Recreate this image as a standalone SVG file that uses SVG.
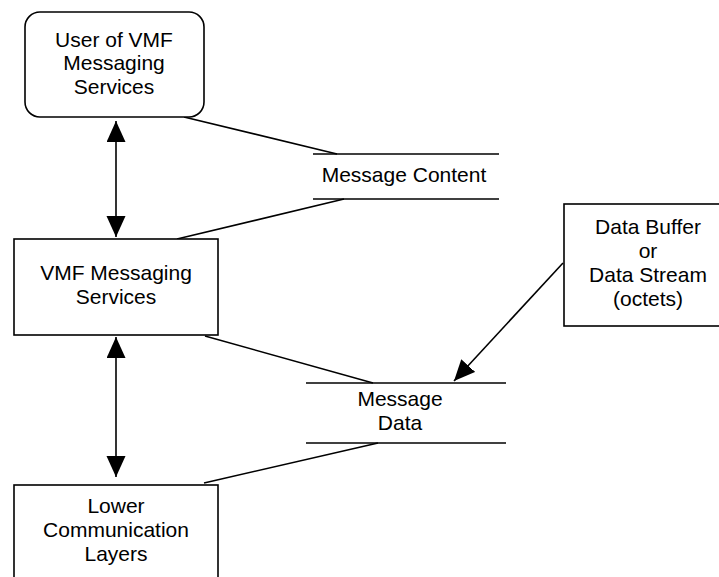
<svg xmlns="http://www.w3.org/2000/svg" width="719" height="577" viewBox="0 0 719 577">
<style>
.box{fill:#fff;stroke:#000;stroke-width:1.6}
.ln{fill:none;stroke:#000;stroke-width:1.6}
.arr{fill:none;stroke:#000;stroke-width:1.6}
text{font-family:"Liberation Sans",Arial,sans-serif;font-size:21px;fill:#000;text-anchor:middle}
</style>
<defs>
<marker id="ah" markerUnits="userSpaceOnUse" markerWidth="22" markerHeight="20" refX="21" refY="9.5" orient="auto-start-reverse">
<path d="M0,0 L21,9.5 L0,19 Z" fill="#000"/>
</marker>
</defs>
<rect width="719" height="577" fill="#fff"/>
<g id="connectors">
<line class="arr" x1="116" y1="121" x2="116" y2="237" marker-start="url(#ah)" marker-end="url(#ah)"/>
<line class="arr" x1="116" y1="337" x2="116" y2="477" marker-start="url(#ah)" marker-end="url(#ah)"/>
<line class="arr" x1="563" y1="263" x2="454" y2="381" marker-end="url(#ah)"/>
<line class="ln" x1="184" y1="117" x2="337" y2="154"/>
<line class="ln" x1="344" y1="199" x2="177" y2="239"/>
<line class="ln" x1="205" y1="336" x2="373" y2="383"/>
<line class="ln" x1="378" y1="443" x2="204" y2="483"/>
</g>
<g id="user">
<rect class="box" x="25" y="12" width="179" height="105" rx="15" ry="15"/>
<text x="114" y="47">User of VMF</text>
<text x="114" y="70">Messaging</text>
<text x="114" y="94">Services</text>
</g>
<g id="vmf">
<rect class="box" x="14" y="239" width="204" height="96"/>
<text x="116" y="280">VMF Messaging</text>
<text x="116" y="304">Services</text>
</g>
<g id="lower">
<rect class="box" x="14" y="485" width="204" height="110"/>
<text x="116" y="513">Lower</text>
<text x="116" y="537">Communication</text>
<text x="116" y="561">Layers</text>
</g>
<g id="content">
<line class="ln" x1="313" y1="154" x2="499" y2="154"/>
<line class="ln" x1="313" y1="199" x2="499" y2="199"/>
<text x="404" y="182">Message Content</text>
</g>
<g id="data">
<line class="ln" x1="306" y1="383" x2="506" y2="383"/>
<line class="ln" x1="306" y1="443" x2="506" y2="443"/>
<text x="400" y="406">Message</text>
<text x="400" y="430">Data</text>
</g>
<g id="buffer">
<rect class="box" x="564" y="204" width="170" height="122"/>
<text x="648" y="234">Data Buffer</text>
<text x="648" y="258">or</text>
<text x="648" y="282">Data Stream</text>
<text x="648" y="306">(octets)</text>
</g>
</svg>
